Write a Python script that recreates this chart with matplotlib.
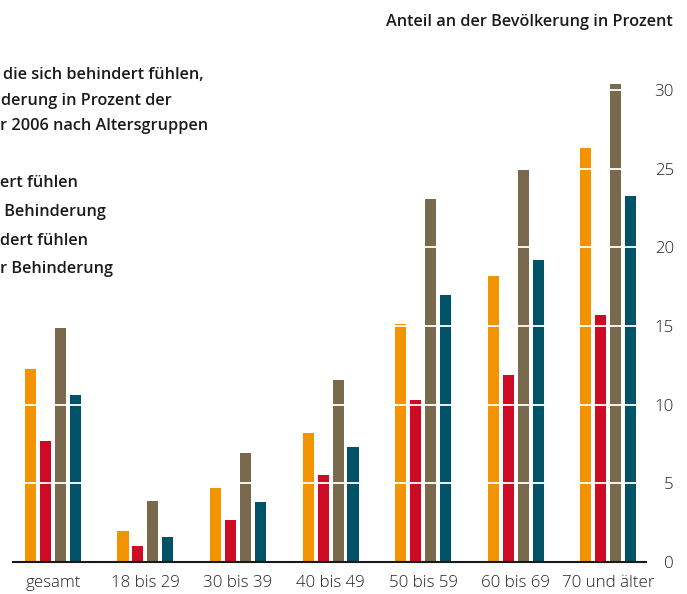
import numpy as np
import matplotlib
matplotlib.use("Agg")
import matplotlib.pyplot as plt

# Altersgruppen
groups = ["gesamt", "18 bis 29", "30 bis 39", "40 bis 49", "50 bis 59", "60 bis 69", "70 und älter"]

# Anteil an der Bevölkerung in Prozent
orange_vals = [12.3, 2.0, 4.7, 8.2, 15.1, 18.2, 26.3]
red_vals = [7.7, 1.0, 2.7, 5.5, 10.3, 11.9, 15.7]
brown_vals = [14.9, 3.9, 6.9, 11.6, 23.1, 24.9, 30.4]
teal_vals = [10.6, 1.6, 3.8, 7.3, 17.0, 19.2, 23.3]

yticks = [0, 5, 10, 15, 20, 25, 30]

# sichtbare Textteile (links abgeschnitten)
title_lines = ["die sich behindert fühlen,", "derung in Prozent der", "r 2006 nach Altersgruppen"]
legend_lines = ["ert fühlen", " Behinderung", "dert fühlen", "r Behinderung"]
ylabel = "Anteil an der Bevölkerung in Prozent"

colors = ["#F29400", "#CE0A24", "#7A6A4D", "#005266"]

plt.rcParams["font.family"] = ["Open Sans", "DejaVu Sans"]

fig = plt.figure(figsize=(6.87, 5.94), dpi=100)
ax = fig.add_axes([13 / 687, 32 / 594, (646 - 13) / 687, (562 - 74.4) / 594])

x = np.arange(len(groups))
pitch = 0.162
width = 0.119
series = [orange_vals, red_vals, brown_vals, teal_vals]
for i, vals in enumerate(series):
    ax.bar(x + (i - 1.5) * pitch, vals, width, color=colors[i], zorder=2)

# weisse Gitterlinien ueber den Balken
for t in yticks[1:]:
    ax.axhline(t, color="white", lw=1.3, zorder=3)

ax.set_xlim(-0.432, 6.41)
ax.set_ylim(0, 31)

for s in ["top", "left", "right"]:
    ax.spines[s].set_visible(False)
ax.spines["bottom"].set_linewidth(1.5)
ax.spines["bottom"].set_color("#1a1a1a")
ax.spines["bottom"].set_zorder(4)

tick_font = dict(fontsize=12.2, fontweight="light", color="#222222")

ax.set_xticks(x)
ax.set_xticklabels(groups, **tick_font)
ax.tick_params(axis="x", length=0, pad=9.5)

ax.yaxis.tick_right()
ax.set_yticks(yticks)
ax.set_yticklabels([str(t) for t in yticks], **tick_font)
ax.tick_params(axis="y", length=0, pad=20)
for lab in ax.get_yticklabels():
    lab.set_horizontalalignment("right")

head_font = dict(fontsize=11.7, fontweight="semibold", color="#1a1a1a")

fig.text(673 / 687, 1 - 22 / 594, ylabel, ha="right", va="center", **head_font)

title_y = [75, 101, 126]
title_x = [3, 1, 0]
for txt, yy, xx in zip(title_lines, title_y, title_x):
    fig.text(xx / 687, 1 - yy / 594, txt, ha="left", va="center", **head_font)

legend_y = [183, 212, 241, 269]
for txt, yy in zip(legend_lines, legend_y):
    fig.text(0, 1 - yy / 594, txt, ha="left", va="center", **head_font)

fig.savefig("out.png", dpi=100)
